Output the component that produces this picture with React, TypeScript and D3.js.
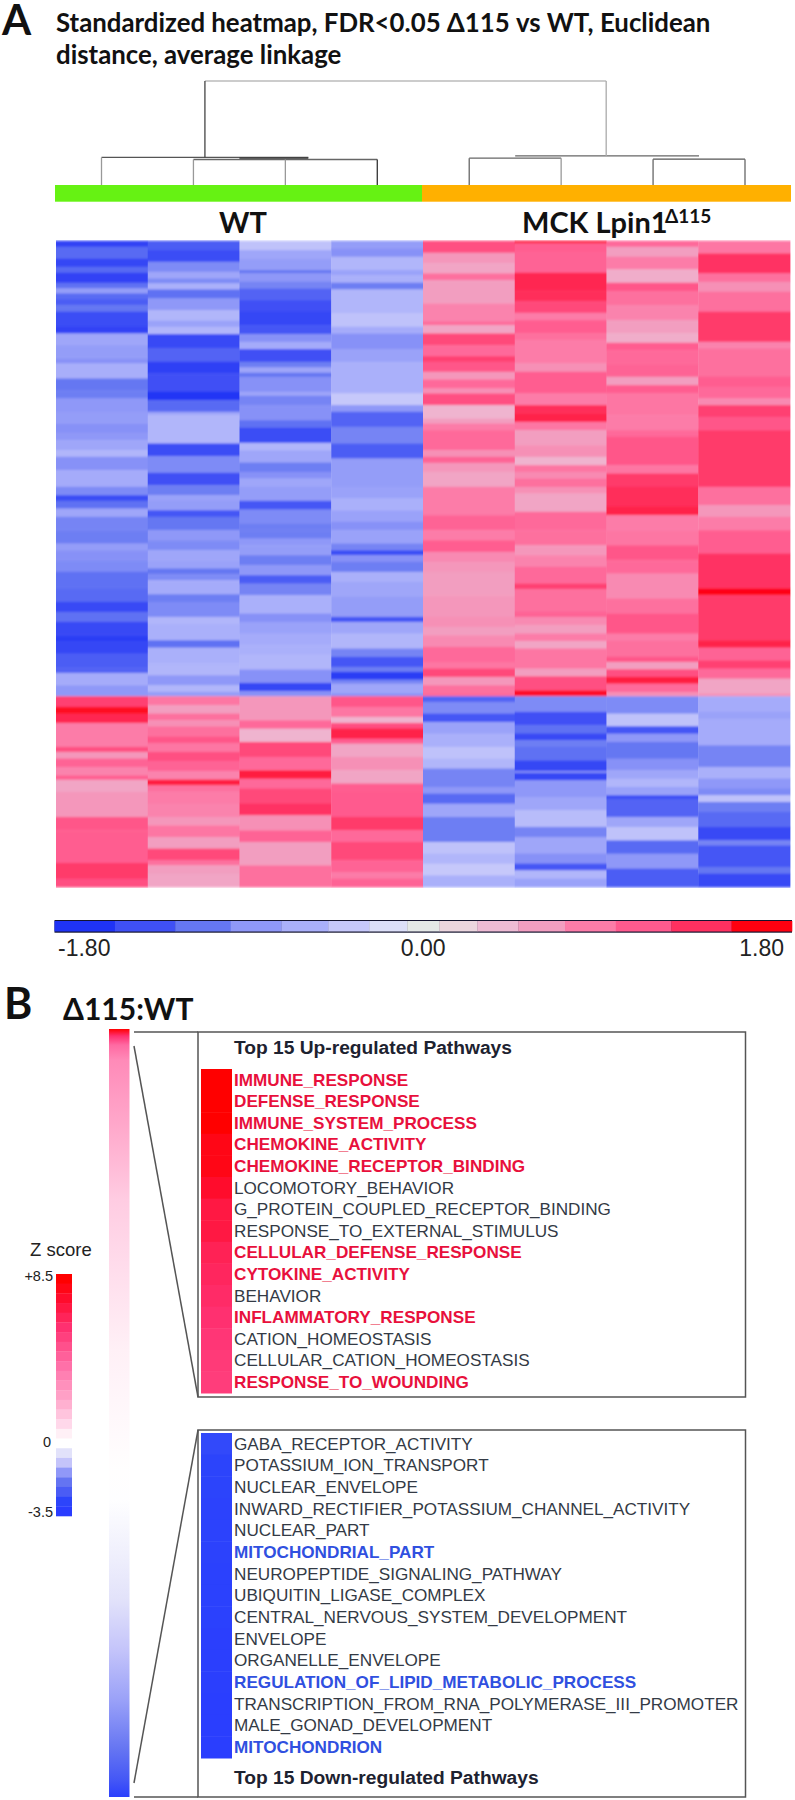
import React from 'react';
import * as d3 from 'd3';

// each column: [end of band along the gene order, standardized value]
const wt1 = [[18,-1.6],[53,-1.2],[78,-1.55],[96,-1.2],[126,-1.6],[143,-1.15],[158,-.8],[173,-1.2],[193,-1.3],[213,-1.1],[258,-1.45],[278,-1.6],[313,-.7],[353,-.8],[368,-.9],[413,-.62],[448,-1.1],[473,-1.05],[513,-.85],[548,-.8],[578,-.9],[598,-.85],[628,-.7],[648,-.55],[688,-.9],[738,-.65],[763,-.95],[780,-1.45],[803,-1.15],[828,-.7],[868,-1],[908,-1.05],[928,-.8],[958,-.9],[993,-.95],[1043,-1.15],[1083,-1.2],[1113,-1.5],[1143,-1.15],[1183,-1.5],[1200,-1.7],[1238,-1.55],[1278,-1.3],[1296,-1.25],[1333,-.65],[1366,-.85],[1398,1.3],[1418,1.75],[1446,1.5],[1518,.85],[1533,1.2],[1553,.65],[1578,1.05],[1603,.8],[1616,1.1],[1653,.55],[1728,.65],[1768,1.15],[1866,1.1],[1913,1.35],[1938,1.2]];
const wt2 = [[28,-1.3],[63,-1.45],[93,-.95],[113,-.7],[128,-.95],[146,-.6],[173,-1.15],[208,-.85],[240,-.55],[258,-.75],[280,-.55],[323,-1.5],[363,-1.25],[398,-1.65],[453,-1.4],[478,-1.8],[513,-1.2],[523,-.7],[608,-.55],[646,-1.45],[696,-.95],[733,-1.4],[763,-1.05],[780,-.75],[808,-.8],[828,-1.35],[868,-1.1],[898,-.85],[928,-.95],[958,-.7],[983,-.75],[1000,-1.1],[1018,-.95],[1060,-.65],[1083,-1.05],[1128,-.95],[1148,-.55],[1198,-.6],[1220,-1.15],[1268,-.6],[1303,-.55],[1333,-.85],[1353,-.55],[1366,-.8],[1393,.9],[1418,.6],[1438,.95],[1456,.7],[1486,.95],[1506,1.15],[1533,.9],[1560,1.2],[1590,1.05],[1616,.8],[1633,1.6],[1650,.95],[1688,.85],[1728,.8],[1753,.65],[1788,.9],[1823,.6],[1858,1.25],[1873,.95],[1898,.6],[1938,.55]];
const wt3 = [[28,-.45],[53,-.7],[88,-.8],[98,-1.1],[123,-.85],[143,-1],[178,-1.25],[213,-1.4],[253,-1.55],[280,-1.35],[303,-.9],[325,-.65],[363,-1.4],[380,-1.05],[396,-.7],[408,-1.1],[453,-.9],[465,-.7],[493,-1],[538,-.9],[560,-1.15],[606,-1.45],[628,-.55],[665,-.7],[693,-1.05],[713,-.9],[738,-.7],[780,-.8],[806,-1.35],[848,-.95],[868,-1.05],[893,-1.05],[913,-.85],[943,-.8],[973,-1.05],[1003,-.85],[1028,-1.3],[1063,-1],[1118,-.6],[1143,-.9],[1178,-.75],[1213,-.65],[1243,-.6],[1286,-.55],[1326,-.9],[1350,-1.55],[1366,-.9],[1438,.65],[1463,1],[1503,.45],[1548,1.25],[1588,1],[1613,1.6],[1643,1],[1688,1.25],[1723,1.4],[1768,.7],[1803,1.05],[1873,.6],[1938,.95]];
const wt4 = [[23,-.8],[48,-.9],[88,-.55],[103,-.75],[126,-.6],[146,-1.05],[218,-.55],[258,-.45],[278,-.65],[326,-.9],[363,-.75],[458,-.6],[493,-.4],[513,-.85],[558,-1.25],[608,-1],[653,-1.3],[738,-.8],[773,-.75],[808,-.6],[843,-.75],[868,-.9],[908,-.75],[928,-1],[943,-1.45],[963,-.9],[993,-1.05],[1023,-.6],[1068,-.7],[1128,-.8],[1143,-1.35],[1178,-.7],[1223,-.55],[1248,-1],[1278,-1.35],[1293,-1.05],[1316,-1.7],[1328,-1],[1358,-.7],[1366,-.9],[1398,1.15],[1428,.9],[1446,.45],[1463,1.2],[1493,1.55],[1508,1.1],[1548,.55],[1588,.7],[1628,.55],[1653,1.1],[1728,1.12],[1768,1.35],[1803,1],[1858,1.25],[1893,1.05],[1913,.85],[1938,1.05]];
const ko1 = [[36,1.2],[68,.65],[98,.55],[118,.95],[188,.6],[243,.8],[253,1],[278,.55],[313,1.25],[346,1],[363,1.3],[393,1.15],[416,.65],[443,1],[458,.7],[493,1.2],[533,.45],[548,.6],[568,.85],[628,1],[648,.7],[666,1.05],[693,.65],[738,.55],[823,.85],[868,1.05],[898,.85],[933,1.1],[963,.75],[993,.65],[1063,.6],[1128,.65],[1158,.7],[1183,.6],[1218,.75],[1263,1],[1283,.9],[1308,1.25],[1333,.65],[1358,.95],[1366,1],[1383,-1.25],[1418,-.95],[1443,-1.35],[1478,-.75],[1518,-.6],[1553,-.45],[1583,-.55],[1638,-1],[1658,-.85],[1688,-1.2],[1728,-.7],[1803,-1.05],[1838,-.45],[1868,-.55],[1903,-.4],[1938,-.6]];
const ko2 = [[8,1.6],[33,1.1],[96,1.05],[148,1.5],[181,1.45],[216,1.25],[238,.85],[278,1.1],[298,.95],[368,.85],[393,.7],[458,1.1],[493,.85],[518,1.45],[543,1.55],[568,.9],[613,.6],[648,.7],[673,.45],[693,.9],[713,.75],[738,.95],[758,.7],[813,.55],[868,1],[913,.95],[943,.65],[978,.8],[1028,1],[1045,1.3],[1113,.95],[1128,1.05],[1153,.75],[1178,.6],[1200,.85],[1223,.55],[1283,.9],[1306,.6],[1348,1.2],[1366,1.7],[1413,-.95],[1453,-1.4],[1478,-1.15],[1498,-1.5],[1518,-1.05],[1558,-1.15],[1590,-1.55],[1596,-.9],[1618,-1.55],[1668,-.85],[1708,-.7],[1758,-.5],[1788,-1],[1838,-.7],[1868,-.9],[1888,-1.35],[1913,-.55],[1938,-.75]];
const ko3 = [[18,1],[48,.6],[86,.85],[126,.5],[151,1.15],[193,.95],[238,.8],[278,.6],[306,.5],[328,1.1],[368,1],[408,1.05],[433,.6],[458,1.1],[523,.9],[568,.85],[588,1],[673,1.15],[698,.9],[738,1.35],[798,1.45],[823,1.55],[868,.85],[913,.9],[958,1.15],[998,1],[1073,.75],[1118,.95],[1178,1.15],[1198,.85],[1248,.95],[1263,1.15],[1285,.6],[1308,1.2],[1328,1.6],[1353,1],[1366,.7],[1418,-.95],[1456,-.45],[1478,-1.35],[1503,-.85],[1553,-1.1],[1588,-.9],[1613,-.7],[1638,-.55],[1663,-.75],[1673,-1.5],[1728,-1.25],[1758,-.7],[1798,-.45],[1838,-1.2],[1883,-.85],[1938,-1.3]];
const ko4 = [[38,.9],[98,1.4],[123,.95],[153,.7],[213,.95],[303,1.35],[323,.8],[408,.95],[438,1.1],[473,1],[493,.75],[528,1.3],[568,1.15],[738,1.35],[793,.95],[828,.65],[868,.85],[938,1.1],[1043,1.4],[1063,1.8],[1198,1.35],[1220,1.55],[1258,1.05],[1283,1.3],[1313,1],[1358,.55],[1366,.7],[1413,-.65],[1433,-.75],[1513,-.65],[1578,-1],[1613,-.6],[1643,-.85],[1663,-.95],[1683,-.45],[1713,-1.05],[1758,-1.2],[1798,-1.5],[1813,-1],[1878,-1.35],[1898,-1.1],[1938,-1.5]];
const heatColumns = [wt1, wt2, wt3, wt4, ko1, ko2, ko3, ko4];
const heatLength = 1938;

const groups = ['WT', 'MCK Lpin1'];
const palette = ['#1f33f5','#3f50f5','#6577f2','#8f98f8','#aab0fa','#c6c8fa','#dcdff8','#e4e8e6','#ecd6de','#eebbd4','#f29ec0','#fc7ca8','#ff5a8e','#ff3060','#ff0010'];
const paletteCentres = [-1.85,-1.4,-1.1,-.85,-.6,-.4,-.17,0,.17,.4,.6,.85,1.12,1.42,1.85];
const barBreaks = [-1.505,-1.211,-.94,-.692,-.464,-.264,-.078,.078,.264,.464,.692,.94,1.211,1.505];
const barDomain = [-1.8, 1.8];
const barTicks = [-1.8, 0, 1.8];

// dendrogram: sample position along the leaves, height as share of the root
const dendroForks = [[1.125,5.49,1],[0,2.25,.265],[1,3,.245],[1.5,2.25,.258],[4,5,.258],[6,7,.248],[4.5,6.5,.28]];
const dendroStems = [[0,0,.265],[1,0,.245],[2,0,.245],[3,0,.245],[4,0,.258],[5,0,.258],[6,0,.248],[7,0,.248],[1.125,.265,1],[5.49,.28,1]];
const stemShades = ['#999','#999','#999','#333','#666','#999','#666','#666','#444','#aaa'];
const forkShades = ['#bbb','#555','#666','#333','#666','#555','#666'];

const zScale = [8.5,7.5,6,4,2,1,.5,0,-.5,-1,-1.5,-2,-2.5,-3,-3.5];
const zColors = ['#ff0000','#ff0c2c','#ff3070','#ff70a8','#ffb0d0','#ffd8ea','#fff0f6','#ffffff','#e2e2fa','#c4c4fa','#9098f8','#6474f2','#4a5cf5','#2c44fb','#2a3cff'];
const zLevels = [8.5,8,7.5,7,6.5,6,5.5,5,4.5,4,3.5,3,2.5,2,1.5,1,.5,0,-.5,-1,-1.5,-2,-2.5,-3,-3.5];
const zTicks = [8.5, 0, -3.5];

const rankLength = 768;
const rankStops = [0,7,16,31,71,101,171,241,321,371,441,471,531,571,621,671,721,751,768];
const rankZ = [8.5,6,4.2,3.2,2.6,2.2,1.3,.9,.5,.3,.05,-.02,-.3,-.5,-1,-1.4,-2,-2.6,-3.3];

const upPathways = ['IMMUNE_RESPONSE','DEFENSE_RESPONSE','IMMUNE_SYSTEM_PROCESS','CHEMOKINE_ACTIVITY','CHEMOKINE_RECEPTOR_BINDING','LOCOMOTORY_BEHAVIOR','G_PROTEIN_COUPLED_RECEPTOR_BINDING','RESPONSE_TO_EXTERNAL_STIMULUS','CELLULAR_DEFENSE_RESPONSE','CYTOKINE_ACTIVITY','BEHAVIOR','INFLAMMATORY_RESPONSE','CATION_HOMEOSTASIS','CELLULAR_CATION_HOMEOSTASIS','RESPONSE_TO_WOUNDING'];
const upZ = [8.5,8.5,8.5,8,8,7.5,7,7,6.6,6.4,6.2,6,5.8,5.7,5.6];
const upHighlighted = [0,1,2,3,4,8,9,11,14];
const downPathways = ['GABA_RECEPTOR_ACTIVITY','POTASSIUM_ION_TRANSPORT','NUCLEAR_ENVELOPE','INWARD_RECTIFIER_POTASSIUM_CHANNEL_ACTIVITY','NUCLEAR_PART','MITOCHONDRIAL_PART','NEUROPEPTIDE_SIGNALING_PATHWAY','UBIQUITIN_LIGASE_COMPLEX','CENTRAL_NERVOUS_SYSTEM_DEVELOPMENT','ENVELOPE','ORGANELLE_ENVELOPE','REGULATION_OF_LIPID_METABOLIC_PROCESS','TRANSCRIPTION_FROM_RNA_POLYMERASE_III_PROMOTER','MALE_GONAD_DEVELOPMENT','MITOCHONDRION'];
const downZ = [-2.9,-3,-3,-3.1,-3.1,-3.1,-3.2,-3.2,-3.2,-3.3,-3.3,-3.3,-3.4,-3.4,-3.4];
const downHighlighted = [5,11,14];

const calibri = "Lato, 'Noto Sans', sans-serif";
const arial = "'Liberation Sans', Arial, sans-serif";

const heatColor = d3.scaleLinear<string>().domain(paletteCentres).range(palette).clamp(true);
const zColor = d3.scaleLinear<string>().domain(zScale).range(zColors).clamp(true);

function PathwayList({ names, z, marked, top, bottom, markColor }) {
  const y = d3.scaleBand().domain(names).range([top, bottom]);
  return (
    <g>
      {names.map((n, i) => (
        <g key={n}>
          <rect x={201} y={y(n)} width={31} height={y.bandwidth() + .5} fill={zColor(z[i])} />
          <text x={234} y={y(n) + y.bandwidth() / 2 + 5.8} fontFamily={arial} fontSize={17.15}
            fontWeight={marked.includes(i) ? 'bold' : 'normal'}
            fill={marked.includes(i) ? markColor : '#333a45'}>{n}</text>
        </g>
      ))}
    </g>
  );
}

export default function App() {
  const heatX = d3.scaleBand().domain(d3.range(8).map(String)).range([56, 790]);
  const heatY = d3.scaleLinear().domain([0, heatLength]).range([240.7, 887]);
  const barX = d3.scaleLinear().domain(barDomain).range([54.5, 792]);
  const leafX = d3.scaleLinear().domain([0, 7]).range([101.5, 745]);
  const leafY = d3.scaleLinear().domain([0, 1]).range([185, 81]);
  const rankY = d3.scaleLinear().domain([0, rankLength]).range([1029, 1797]);
  const zBand = d3.scaleBand().domain(zLevels.map(String)).range([1274, 1516]);
  const barEdges = [barDomain[0], ...barBreaks, barDomain[1]];
  const barColor = d3.scaleThreshold<number, string>().domain(barBreaks).range(palette);
  const tickAnchors = ['start', 'middle', 'end'];
  const tickShift = [3.5, 0, -8];

  return (
    <svg width={795} height={1800} viewBox="0 0 795 1800"
      style={{ position: 'absolute', left: 0, top: 0, display: 'block', background: '#fff' }}>
      <defs>
        <filter id="soft" x="0" y="0" width="1" height="1">
          <feGaussianBlur stdDeviation="0.5 1.3" />
        </filter>
        <linearGradient id="ranked" x1="0" y1="0" x2="0" y2="1">
          {rankStops.map((r, i) => (
            <stop key={r} offset={r / rankLength} stopColor={zColor(rankZ[i])} />
          ))}
        </linearGradient>
      </defs>

      <text x={2} y={35} fontFamily={calibri} fontSize={42} fontWeight="bold" fill="#111">A</text>
      <g fontFamily={calibri} fontSize={25.8} fontWeight="bold" fill="#111">
        <text x={56} y={32}>Standardized heatmap, FDR&lt;0.05 Δ115 vs WT, Euclidean</text>
        <text x={56} y={64}>distance, average linkage</text>
      </g>

      {dendroForks.map(([a, b, h], i) => (
        <line key={i} x1={leafX(a)} x2={leafX(b)} y1={leafY(h)} y2={leafY(h)} stroke={forkShades[i]} strokeWidth={1.3} />
      ))}
      {dendroStems.map(([a, h0, h1], i) => (
        <line key={i} x1={leafX(a)} x2={leafX(a)} y1={leafY(h0)} y2={leafY(h1)} stroke={stemShades[i]} strokeWidth={1.3} />
      ))}

      <rect x={55} y={185} width={367} height={16.7} fill="#66f213" />
      <rect x={422} y={185} width={369} height={16.7} fill="#ffb000" />
      <g fontFamily={calibri} fontSize={29} fontWeight="bold" fill="#111">
        <text x={243} y={233} textAnchor="middle">{groups[0]}</text>
        <text x={522} y={233}>{groups[1]}</text>
        <text x={665} y={222.7} fontSize={19}>Δ115</text>
      </g>

      <g filter="url(#soft)">
        {heatColumns.map((col, c) => (
          <g key={c}>
            {col.map(([end, v], i) => {
              const start = i ? col[i - 1][0] : 0;
              return (
                <rect key={i} x={heatX(String(c))} width={heatX.bandwidth() + .4} y={heatY(start)}
                  height={heatY(end) - heatY(start) + .4} fill={heatColor(v)} />
              );
            })}
          </g>
        ))}
      </g>

      <rect x={barX(barDomain[0])} y={920} width={barX(barDomain[1]) - barX(barDomain[0])} height={12.7} fill="#14142e" />
      {barEdges.slice(1).map((e, i) => (
        <rect key={e} x={barX(barEdges[i])} y={921} width={barX(e) - barX(barEdges[i]) + .3} height={10.5}
          fill={barColor((barEdges[i] + e) / 2)} />
      ))}
      <g fontFamily={arial} fontSize={23} fill="#222">
        {barTicks.map((t, i) => (
          <text key={t} x={barX(t) + tickShift[i]} y={956} textAnchor={tickAnchors[i]}>{t.toFixed(2)}</text>
        ))}
      </g>

      <text x={4} y={1019} fontFamily={calibri} fontSize={43} fontWeight="bold" fill="#111">B</text>
      <text x={63} y={1020} fontFamily={calibri} fontSize={30} fontWeight="bold" fill="#111">Δ115:WT</text>
      <rect x={109} y={rankY(0)} width={20.5} height={rankY(rankLength) - rankY(0)} fill="url(#ranked)" />

      <g fill="none" stroke="#555" strokeWidth={1.5}>
        <rect x={198} y={1032} width={547.5} height={365} />
        <rect x={198} y={1430} width={547.5} height={367} />
        <line x1={134} x2={198} y1={1032} y2={1032} />
        <line x1={134} x2={198} y1={1797} y2={1797} />
        <line x1={134} x2={198} y1={1046} y2={1397} />
        <line x1={134} x2={198} y1={1783} y2={1430} />
      </g>

      <text x={234} y={1054} fontFamily={arial} fontSize={19.2} fontWeight="bold" fill="#1d2230">Top 15 Up-regulated Pathways</text>
      <PathwayList names={upPathways} z={upZ} marked={upHighlighted} top={1069} bottom={1393} markColor="#e8103c" />
      <PathwayList names={downPathways} z={downZ} marked={downHighlighted} top={1433} bottom={1758} markColor="#3050e0" />
      <text x={234} y={1784} fontFamily={arial} fontSize={19.2} fontWeight="bold" fill="#1d2230">Top 15 Down-regulated Pathways</text>

      <text x={30} y={1256} fontFamily={arial} fontSize={18.5} fill="#222">Z score</text>
      {zLevels.map((z) => (
        <rect key={z} x={56} y={zBand(String(z))} width={16} height={zBand.bandwidth() + .3} fill={zColor(z)} />
      ))}
      <g fontFamily={arial} fontSize={14.5} fill="#222" textAnchor="end">
        {zTicks.map((t, i) => (
          <text key={t} x={i === 1 ? 51 : 53} y={[1281, 1447, 1517][i]}>{t > 0 ? `+${t}` : t}</text>
        ))}
      </g>
    </svg>
  );
}
